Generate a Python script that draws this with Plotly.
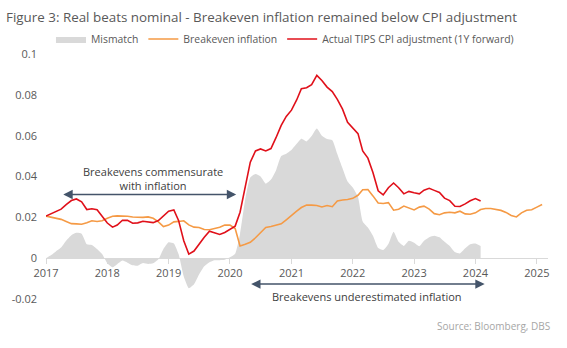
import pandas as pd
import plotly.graph_objects as go

# ---- data (monthly, starting Jan 2017) ----
actual_tips = [
    0.0206, 0.0218, 0.0230, 0.0240, 0.0262, 0.0282, 0.0290, 0.0276, 0.0238, 0.0242, 0.0237, 0.0207,
    0.0172, 0.0152, 0.0162, 0.0186, 0.0185, 0.0171, 0.0173, 0.0181, 0.0176, 0.0174, 0.0184, 0.0207,
    0.0230, 0.0236, 0.0185, 0.0085, 0.0020, 0.0035, 0.0070, 0.0102, 0.0132, 0.0124, 0.0116, 0.0126,
    0.0140, 0.0157, 0.0225, 0.0345, 0.0470, 0.0525, 0.0535, 0.0525, 0.0537, 0.0590, 0.0650, 0.0694,
    0.0725, 0.0775, 0.0830, 0.0835, 0.0850, 0.0895, 0.0870, 0.0838, 0.0816, 0.0778, 0.0730, 0.0665,
    0.0635, 0.0610, 0.0525, 0.0490, 0.0420, 0.0330, 0.0310, 0.0345, 0.0368, 0.0345, 0.0315, 0.0327,
    0.0320, 0.0315, 0.0333, 0.0342, 0.0332, 0.0322, 0.0294, 0.0282, 0.0254, 0.0253, 0.0266, 0.0281,
    0.0292, 0.0280,
]

breakeven = [
    0.0206, 0.0201, 0.0196, 0.0190, 0.0180, 0.0169, 0.0168, 0.0166, 0.0173, 0.0183, 0.0180, 0.0183,
    0.0195, 0.0205, 0.0207, 0.0207, 0.0205, 0.0202, 0.0200, 0.0200, 0.0202, 0.0195, 0.0178, 0.0155,
    0.0162, 0.0178, 0.0180, 0.0183, 0.0163, 0.0152, 0.0150, 0.0140, 0.0139, 0.0145, 0.0151, 0.0162,
    0.0162, 0.0145, 0.0060, 0.0068, 0.0078, 0.0100, 0.0125, 0.0150, 0.0155, 0.0160, 0.0168, 0.0188,
    0.0207, 0.0230, 0.0248, 0.0260, 0.0260, 0.0258, 0.0251, 0.0258, 0.0252, 0.0280, 0.0285, 0.0287,
    0.0293, 0.0308, 0.0335, 0.0336, 0.0305, 0.0270, 0.0268, 0.0272, 0.0235, 0.0240, 0.0255, 0.0244,
    0.0236, 0.0250, 0.0255, 0.0240, 0.0218, 0.0213, 0.0222, 0.0225, 0.0222, 0.0230, 0.0217, 0.0215,
    0.0222, 0.0238, 0.0243, 0.0243, 0.0240, 0.0234, 0.0224, 0.0209, 0.0202, 0.0222, 0.0235, 0.0237,
    0.0250, 0.0263,
]

mismatch = [
    0.0000, 0.0015, 0.0033, 0.0052, 0.0085, 0.0112, 0.0124, 0.0120, 0.0068, 0.0065, 0.0045, 0.0020,
    -0.0025, -0.0045, -0.0030, -0.0012, -0.0022, -0.0035, -0.0037, -0.0024, -0.0028, -0.0025, -0.0005, 0.0045,
    0.0078, 0.0072, 0.0020, -0.0090, -0.0147, -0.0128, -0.0080, -0.0040, -0.0020, -0.0010, -0.0010, -0.0008,
    0.0004, 0.0022, 0.0120, 0.0290, 0.0395, 0.0412, 0.0400, 0.0365, 0.0385, 0.0430, 0.0500, 0.0512,
    0.0530, 0.0560, 0.0585, 0.0572, 0.0598, 0.0635, 0.0600, 0.0584, 0.0578, 0.0510, 0.0440, 0.0375,
    0.0346, 0.0300, 0.0180, 0.0150, 0.0110, 0.0050, 0.0040, 0.0070, 0.0130, 0.0080, 0.0060, 0.0085,
    0.0075, 0.0058, 0.0085, 0.0103, 0.0110, 0.0102, 0.0080, 0.0060, 0.0030, 0.0023, 0.0048, 0.0068,
    0.0072, 0.0060,
]

year_ticks = ["2017", "2018", "2019", "2020", "2021", "2022", "2023", "2024", "2025"]
y_ticks = [-0.02, 0, 0.02, 0.04, 0.06, 0.08, 0.1]
y_tick_text = ["-0.02", "0", "0.02", "0.04", "0.06", "0.08", "0.1"]

dates_act = pd.date_range("2017-01-01", periods=len(actual_tips), freq="MS")
dates_be = pd.date_range("2017-01-01", periods=len(breakeven), freq="MS")
dates_mm = pd.date_range("2017-01-01", periods=len(mismatch), freq="MS")

FONT = "Open Sans"
GREY_TXT = "#595959"

fig = go.Figure()
fig.add_trace(go.Scatter(
    x=dates_mm, y=mismatch, name="Mismatch", mode="lines",
    line=dict(width=0, color="#D9D9D9", shape="spline", smoothing=0.5),
    fill="tozeroy", fillcolor="#D9D9D9",
))
fig.add_trace(go.Scatter(
    x=dates_be, y=breakeven, name="Breakeven inflation", mode="lines",
    line=dict(width=1.6, color="#F59A45"),
))
fig.add_trace(go.Scatter(
    x=dates_act, y=actual_tips, name="Actual TIPS CPI adjustment (1Y forward)", mode="lines",
    line=dict(width=1.6, color="#E0101A"),
))

# plot-area geometry (pixels) used to place paper-referenced text
L, R, T, B, W, H = 44, 19, 54, 49, 567, 348
PW, PH = W - L - R, H - T - B

ARROW = "#44546A"
TXT = "#404040"
annotations = [
    dict(x="2020-02-07", y=0.0312, ax="2017-04-05", ay=0.0312, xref="x", yref="y",
         axref="x", ayref="y", text="", showarrow=True, arrowside="end+start",
         arrowhead=2, arrowsize=1.25, arrowwidth=1.5, arrowcolor=ARROW),
    dict(x="2018-09-27", y=0.0388, xref="x", yref="y", showarrow=False,
         text="Breakevens commensurate<br>with inflation",
         font=dict(family=FONT, size=11, color=TXT), align="center"),
    dict(x="2024-02-25", y=-0.0127, ax="2020-04-27", ay=-0.0127, xref="x", yref="y",
         axref="x", ayref="y", text="", showarrow=True, arrowside="end+start",
         arrowhead=2, arrowsize=1.25, arrowwidth=1.5, arrowcolor=ARROW),
    dict(x="2022-03-28", y=-0.0190, xref="x", yref="y", showarrow=False,
         text="Breakevens underestimated inflation",
         font=dict(family=FONT, size=11, color=TXT)),
    dict(x=(552 - L) / PW, y=(H - B - 326) / PH, xref="paper", yref="paper", xanchor="right",
         yanchor="middle", showarrow=False, text="Source: Bloomberg, DBS",
         font=dict(family=FONT, size=10, color="#A6A6A6")),
]

fig.update_layout(
    width=W, height=H,
    margin=dict(l=L, r=R, t=T, b=B),
    paper_bgcolor="white", plot_bgcolor="white",
    font=dict(family=FONT, size=11, color=GREY_TXT),
    title=dict(text="Figure 3: Real beats nominal - Breakeven inflation remained below CPI adjustment",
               x=6 / W, xanchor="left", y=1 - 17 / H, yanchor="middle",
               font=dict(family=FONT, size=13.4, color=GREY_TXT)),
    showlegend=True,
    legend=dict(orientation="h", x=5 / PW, xanchor="left", y=1 + (T - 39) / PH, yanchor="middle",
                font=dict(family=FONT, size=10.4, color=GREY_TXT), bgcolor="rgba(0,0,0,0)",
                itemwidth=30, traceorder="normal"),
    annotations=annotations,
)

fig.update_xaxes(
    type="date", range=["2017-01-01", "2025-03-08"],
    anchor="free", position=1 / 6,
    showline=True, linecolor="#D9D9D9", linewidth=1,
    ticks="outside", ticklen=5, tickcolor="#D9D9D9",
    tickvals=[f"{y}-01-01" for y in year_ticks], ticktext=year_ticks,
    showgrid=False, zeroline=False,
    tickfont=dict(family=FONT, size=11, color=GREY_TXT),
)
fig.update_yaxes(
    range=[-0.02, 0.1], tickvals=y_ticks, ticktext=y_tick_text,
    showgrid=False, zeroline=False, showline=False, ticks="",
    ticklabelstandoff=8,
    tickfont=dict(family=FONT, size=11, color=GREY_TXT),
)

fig.write_html("out.html")
